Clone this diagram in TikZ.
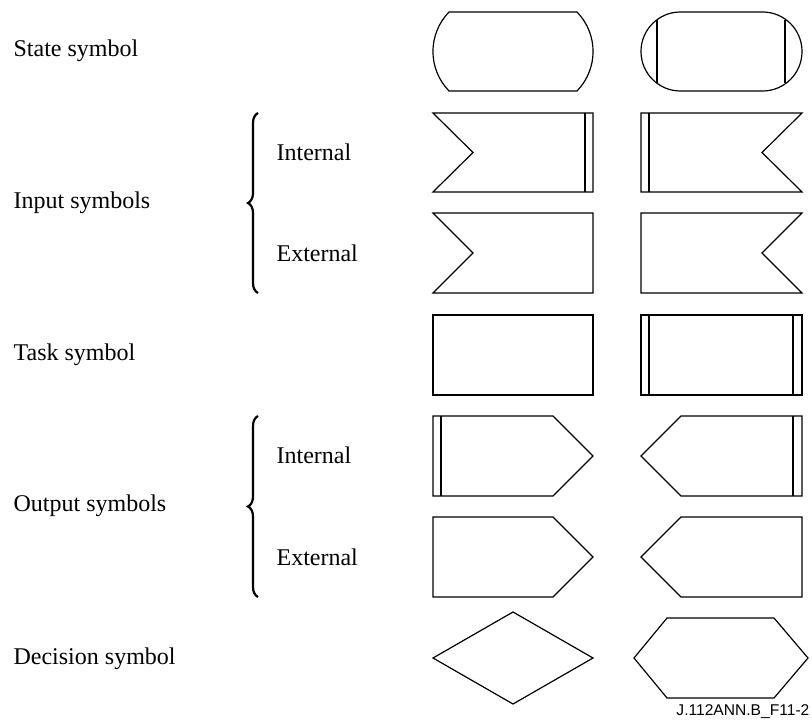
\documentclass[tikz,border=0pt]{standalone}
\usepackage{fontspec}
\setmainfont{Liberation Serif}
\newfontfamily\reffont{Liberation Sans}
\usetikzlibrary{decorations.pathreplacing}

\begin{document}
\begin{tikzpicture}[x=0.5pt, y=-0.5pt, line width=0.6pt,
	lbl/.style={anchor=base west, inner sep=0pt, font=\fontsize{12}{14}\selectfont},
	shp/.style={draw, line join=miter},
	brc/.style={decorate, decoration={brace, amplitude=5pt}, line width=1.1pt}]
	\useasboundingbox (0,0) rectangle (812,726);

	% labels
	\node[lbl] (St) at (13,57) {State symbol};
	\node[lbl] (In) at (13,209) {Input symbols};
	\node[lbl] (InI) at (276,161) {Internal};
	\node[lbl] (InE) at (276,262) {External};
	\node[lbl] (Ta) at (13,361) {Task symbol};
	\node[lbl] (Ou) at (13,511) {Output symbols};
	\node[lbl] (OuI) at (276,463) {Internal};
	\node[lbl] (OuE) at (276,565) {External};
	\node[lbl] (De) at (13,664) {Decision symbol};
	\node[anchor=base east, inner sep=0pt, font=\reffont\fontsize{7.8}{9}\selectfont] (Ref) at (810,715) {J.112ANN.B\_F11-2};

	% braces
	\coordinate (B1a) at (258,293);
	\coordinate (B1b) at (258,113);
	\coordinate (B2a) at (258,597);
	\coordinate (B2b) at (258,416);
	\draw[brc] (B1a) -- (B1b);
	\draw[brc] (B2a) -- (B2b);

	% state
	\draw[shp] (449,12) -- (577,12) to[bend left=44] (577,91) -- (449,91) to[bend left=44] cycle;
	\draw[shp, rounded corners=19.7pt] (641,12) rectangle (802,91);
	\draw (657,19.8) -- (657,83.2);
	\draw (785,19.8) -- (785,83.2);

	% input internal
	\draw[shp] (433,113) -- (593,113) -- (593,192) -- (433,192) -- (473,152.5) -- cycle;
	\draw (585,113) -- (585,192);
	\draw[shp] (641,113) -- (802,113) -- (762,152.5) -- (802,192) -- (641,192) -- cycle;
	\draw (649,113) -- (649,192);

	% input external
	\draw[shp] (433,213) -- (593,213) -- (593,293) -- (433,293) -- (473,253) -- cycle;
	\draw[shp] (641,213) -- (802,213) -- (762,253) -- (802,293) -- (641,293) -- cycle;

	% task
	\draw[shp] (433,315) rectangle (593,395);
	\draw[shp] (641,315) rectangle (802,395);
	\draw (649,315) -- (649,395);
	\draw (793,315) -- (793,395);

	% output internal
	\draw[shp] (433,416) -- (553,416) -- (593,456) -- (553,496) -- (433,496) -- cycle;
	\draw (441,416) -- (441,496);
	\draw[shp] (641,456) -- (681,416) -- (802,416) -- (802,496) -- (681,496) -- cycle;
	\draw (793,416) -- (793,496);

	% output external
	\draw[shp] (433,517) -- (553,517) -- (593,557) -- (553,597) -- (433,597) -- cycle;
	\draw[shp] (641,557) -- (681,517) -- (802,517) -- (802,597) -- (681,597) -- cycle;

	% decision
	\draw[shp] (433,658) -- (513,612) -- (593,658) -- (513,704) -- cycle;
	\draw[shp] (634,658) -- (667,618) -- (774,618) -- (808,658) -- (774,698) -- (667,698) -- cycle;
\end{tikzpicture}
\end{document}
